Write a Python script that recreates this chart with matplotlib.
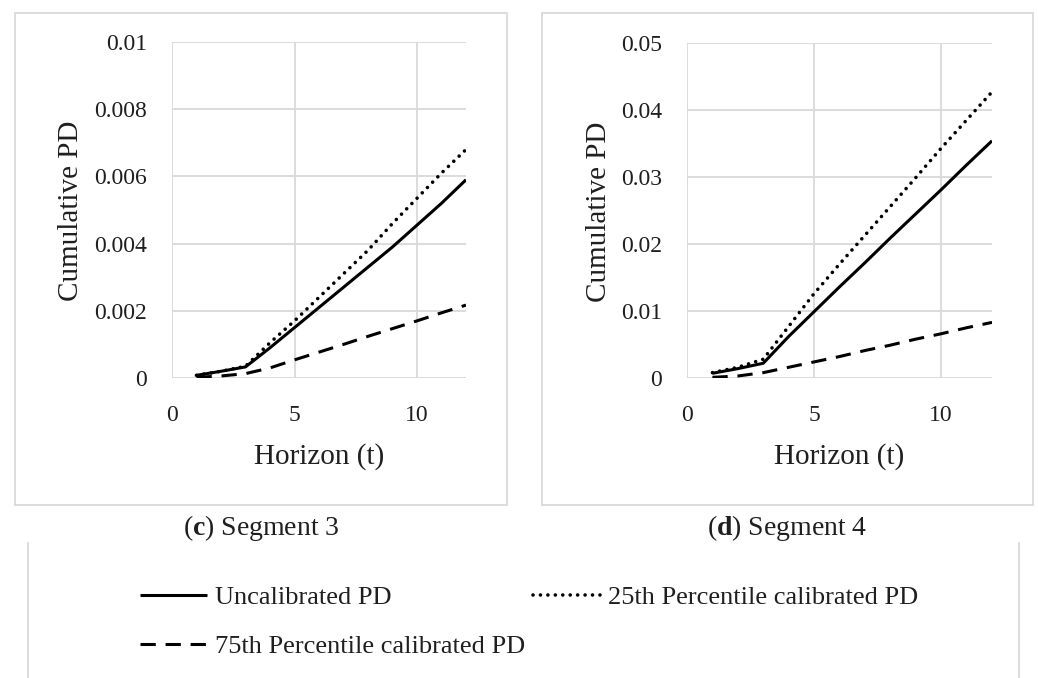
import matplotlib
matplotlib.use("Agg")
import matplotlib.pyplot as plt
from matplotlib.patches import Rectangle
from matplotlib.lines import Line2D
from matplotlib.ticker import FuncFormatter

plt.rcParams['font.family'] = ['Liberation Serif', 'DejaVu Serif']
plt.rcParams['mathtext.fontset'] = 'custom'
plt.rcParams['mathtext.rm'] = 'Liberation Serif'
plt.rcParams['mathtext.bf'] = 'Liberation Serif:bold'

# ---------------- data ----------------
horizon = [1, 2, 3, 4, 5, 6, 7, 8, 9, 10, 11, 12]

seg3_uncal = [0.00008, 0.0002, 0.00033, 0.0009, 0.0015, 0.0021, 0.0027, 0.0033, 0.0039, 0.00455, 0.0052, 0.0059]
seg3_p25 = [0.00008, 0.0002, 0.00035, 0.00105, 0.0017, 0.0024, 0.0031, 0.0038, 0.0046, 0.00535, 0.0061, 0.0068]
seg3_p75 = [0.00002, 0.00006, 0.00013, 0.0003, 0.00054, 0.00077, 0.001, 0.00124, 0.00147, 0.0017, 0.00194, 0.00217]

seg4_uncal = [0.0007, 0.0014, 0.0022, 0.0062, 0.0099, 0.0136, 0.0172, 0.0209, 0.0245, 0.0281, 0.0318, 0.0354]
seg4_p25 = [0.0008, 0.0016, 0.0028, 0.0077, 0.0126, 0.0170, 0.0213, 0.0256, 0.0299, 0.0343, 0.0385, 0.0427]
seg4_p75 = [0.0001, 0.0003, 0.0008, 0.0016, 0.0024, 0.0032, 0.0041, 0.0049, 0.0058, 0.0066, 0.0075, 0.0083]

x_ticks = [0, 5, 10]
seg3_yticks = [0, 0.002, 0.004, 0.006, 0.008, 0.01]
seg4_yticks = [0, 0.01, 0.02, 0.03, 0.04, 0.05]

series_labels = ["Uncalibrated PD", "25th Percentile calibrated PD", "75th Percentile calibrated PD"]
captions = [r"($\mathbf{c}$) Segment 3", r"($\mathbf{d}$) Segment 4"]
x_title = "Horizon (t)"
y_title = "Cumulative PD"

# ---------------- styling ----------------
GRID = '#d9d9d9'
TXT = '#1f1f1f'
styles = [
    dict(color='black', lw=2.2, linestyle='-', solid_capstyle='butt'),
    dict(color='black', lw=2.6, linestyle=(0, (0.01, 2.05)), dash_capstyle='round'),
    dict(color='black', lw=2.2, linestyle=(0, (5.0, 3.2)), dash_capstyle='butt'),
]

W, H = 1038, 678
fig = plt.figure(figsize=(W / 100, H / 100), dpi=100)


def fx(px):
    return px / W


def fy(py):
    return 1 - py / H


# panel boxes
for (l, t, r, b) in [(15, 13, 507, 505), (542, 13, 1033, 505)]:
    fig.add_artist(Rectangle((fx(l), fy(b)), fx(r) - fx(l), fy(t) - fy(b),
                             transform=fig.transFigure, fill=False,
                             edgecolor=GRID, lw=1.3))

ax1 = fig.add_axes([fx(172), fy(378), fx(466) - fx(172), fy(42) - fy(378)])
ax2 = fig.add_axes([fx(687), fy(378), fx(992) - fx(687), fy(43) - fy(378)])

panels = [
    (ax1, [seg3_uncal, seg3_p25, seg3_p75], seg3_yticks, -0.345),
    (ax2, [seg4_uncal, seg4_p25, seg4_p75], seg4_yticks, -0.29),
]

handles = []
for ax, series, yt, ylab_x in panels:
    hs = []
    for vals, st, lab in zip(series, styles, series_labels):
        h, = ax.plot(horizon, vals, label=lab, **st)
        hs.append(h)
    handles = hs
    ax.set_xlim(0, 12)
    ax.set_ylim(yt[0], yt[-1])
    ax.set_xticks(x_ticks)
    ax.set_yticks(yt)
    ax.yaxis.set_major_formatter(FuncFormatter(lambda v, p: f"{v:g}"))
    ax.grid(True, color=GRID, lw=1.3)
    ax.set_axisbelow(True)
    for s in ax.spines.values():
        s.set_visible(False)
    ax.tick_params(length=0, labelsize=17, colors=TXT)
    ax.tick_params(axis='y', pad=18)
    ax.tick_params(axis='x', pad=19.5)
    ax.set_xlabel(x_title, fontsize=21, color=TXT)
    ax.set_ylabel(y_title, fontsize=21, color=TXT)
    ax.xaxis.set_label_coords(0.5, -0.235)
    ax.yaxis.set_label_coords(ylab_x, 0.497)
    ax.xaxis.label.set_va('center')
    ax.yaxis.label.set_va('center')

# captions
for cx, cap in zip([261, 787], captions):
    fig.text(fx(cx), fy(528), cap, ha='center', va='center', fontsize=20, color=TXT)

# legend area vertical lines
for lx in [28, 1019]:
    fig.add_artist(Line2D([fx(lx), fx(lx)], [0, fy(543)], transform=fig.transFigure,
                          color=GRID, lw=1.3))

leg = fig.legend([handles[0], handles[2], handles[1]],
                 [series_labels[0], series_labels[2], series_labels[1]],
                 ncol=2, loc='center', bbox_to_anchor=(fx(529), fy(622)),
                 frameon=False, fontsize=19, handlelength=2.55, handletextpad=0.3,
                 columnspacing=0.3, labelspacing=0.95)
for t in leg.get_texts():
    t.set_color(TXT)

fig.savefig("out.png", dpi=100)
